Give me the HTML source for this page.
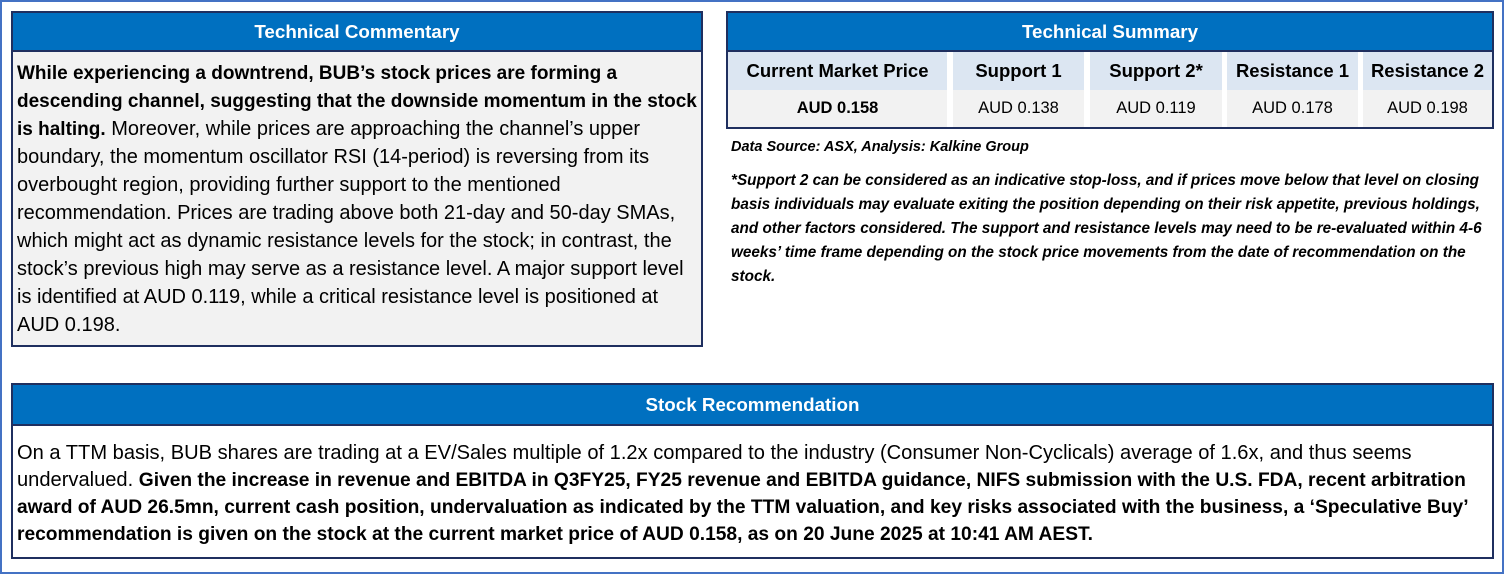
<!DOCTYPE html>
<html><head><meta charset="utf-8"><style>
*{margin:0;padding:0;box-sizing:border-box}
body{width:1504px;height:574px;background:#fff;font-family:"Liberation Sans",sans-serif;color:#000;position:relative;overflow:hidden}
.frame{position:absolute;left:0;top:0;width:1504px;height:574px;border:2px solid #4472c4}
.box{position:absolute;border:2px solid #1f2f5f}
.hdr{background:#0070c0;color:#fff;font-weight:bold;text-align:center;border-bottom:2px solid #1f2f5f}
.ln{white-space:nowrap;display:block}
b{font-weight:bold}
.col{position:absolute;top:52px}
.th{height:38px;line-height:38px;background:#dce6f2;text-align:center;font-weight:bold;font-size:18.5px;white-space:nowrap}
.td{height:37px;line-height:37px;background:#f2f2f2;text-align:center;font-size:16.5px;white-space:nowrap}
.c .ln{height:28px;line-height:28px}
.c b{font-size:19px}
.r .ln{height:27px;line-height:27px}
.r b{font-size:19.2px}
</style></head><body>
<div class="frame"></div>

<div class="box" style="left:11px;top:11px;width:692px;height:336px;background:#f2f2f2">
  <div class="hdr" style="height:39px;line-height:37px;font-size:18.8px">Technical Commentary</div>
  <div class="c" style="padding:7px 0 0 4px;font-size:20px">
    <span class="ln"><b>While experiencing a downtrend, BUB’s stock prices are forming a</b></span>
    <span class="ln"><b>descending channel, suggesting that the downside momentum in the stock</b></span>
    <span class="ln"><b>is halting.</b> Moreover, while prices are approaching the channel’s upper</span>
    <span class="ln">boundary, the momentum oscillator RSI (14-period) is reversing from its</span>
    <span class="ln">overbought region, providing further support to the mentioned</span>
    <span class="ln">recommendation. Prices are trading above both 21-day and 50-day SMAs,</span>
    <span class="ln">which might act as dynamic resistance levels for the stock; in contrast, the</span>
    <span class="ln">stock’s previous high may serve as a resistance level. A major support level</span>
    <span class="ln">is identified at AUD 0.119, while a critical resistance level is positioned at</span>
    <span class="ln">AUD 0.198.</span>
  </div>
</div>

<div class="box" style="left:726px;top:11px;width:768px;height:118px;background:#fff">
  <div class="hdr" style="height:39px;line-height:37px;font-size:18.8px">Technical Summary</div>
</div>
<div class="col" style="left:728px;width:219px">
  <div class="th">Current Market Price</div><div class="td" style="font-weight:bold">AUD 0.158</div>
</div>
<div class="col" style="left:953px;width:131px">
  <div class="th">Support 1</div><div class="td">AUD 0.138</div>
</div>
<div class="col" style="left:1090px;width:132px">
  <div class="th">Support 2*</div><div class="td">AUD 0.119</div>
</div>
<div class="col" style="left:1227px;width:131px">
  <div class="th">Resistance 1</div><div class="td">AUD 0.178</div>
</div>
<div class="col" style="left:1363px;width:129px">
  <div class="th">Resistance 2</div><div class="td">AUD 0.198</div>
</div>

<div style="position:absolute;left:731px;top:139px;font-size:14.5px;font-weight:bold;font-style:italic;white-space:nowrap">Data Source: ASX, Analysis: Kalkine Group</div>
<div style="position:absolute;left:731px;top:169px;font-size:15.3px;font-weight:bold;font-style:italic;line-height:24px">
  <span class="ln">*Support 2 can be considered as an indicative stop-loss, and if prices move below that level on closing</span>
  <span class="ln">basis individuals may evaluate exiting the position depending on their risk appetite, previous holdings,</span>
  <span class="ln">and other factors considered. The support and resistance levels may need to be re-evaluated within 4-6</span>
  <span class="ln">weeks’ time frame depending on the stock price movements from the date of recommendation on the</span>
  <span class="ln">stock.</span>
</div>

<div class="box" style="left:11px;top:383px;width:1483px;height:176px;background:#fff">
  <div class="hdr" style="height:41px;line-height:39px;font-size:18.8px">Stock Recommendation</div>
  <div class="r" style="padding:14px 0 0 4px;font-size:20.1px">
    <span class="ln">On a TTM basis, BUB shares are trading at a EV/Sales multiple of 1.2x compared to the industry (Consumer Non-Cyclicals) average of 1.6x, and thus seems</span>
    <span class="ln">undervalued. <b>Given the increase in revenue and EBITDA in Q3FY25, FY25 revenue and EBITDA guidance, NIFS submission with the U.S. FDA, recent arbitration</b></span>
    <span class="ln"><b>award of AUD 26.5mn, current cash position, undervaluation as indicated by the TTM valuation, and key risks associated with the business, a ‘Speculative Buy’</b></span>
    <span class="ln"><b>recommendation is given on the stock at the current market price of AUD 0.158, as on 20 June 2025 at 10:41 AM AEST.</b></span>
  </div>
</div>
</body></html>
